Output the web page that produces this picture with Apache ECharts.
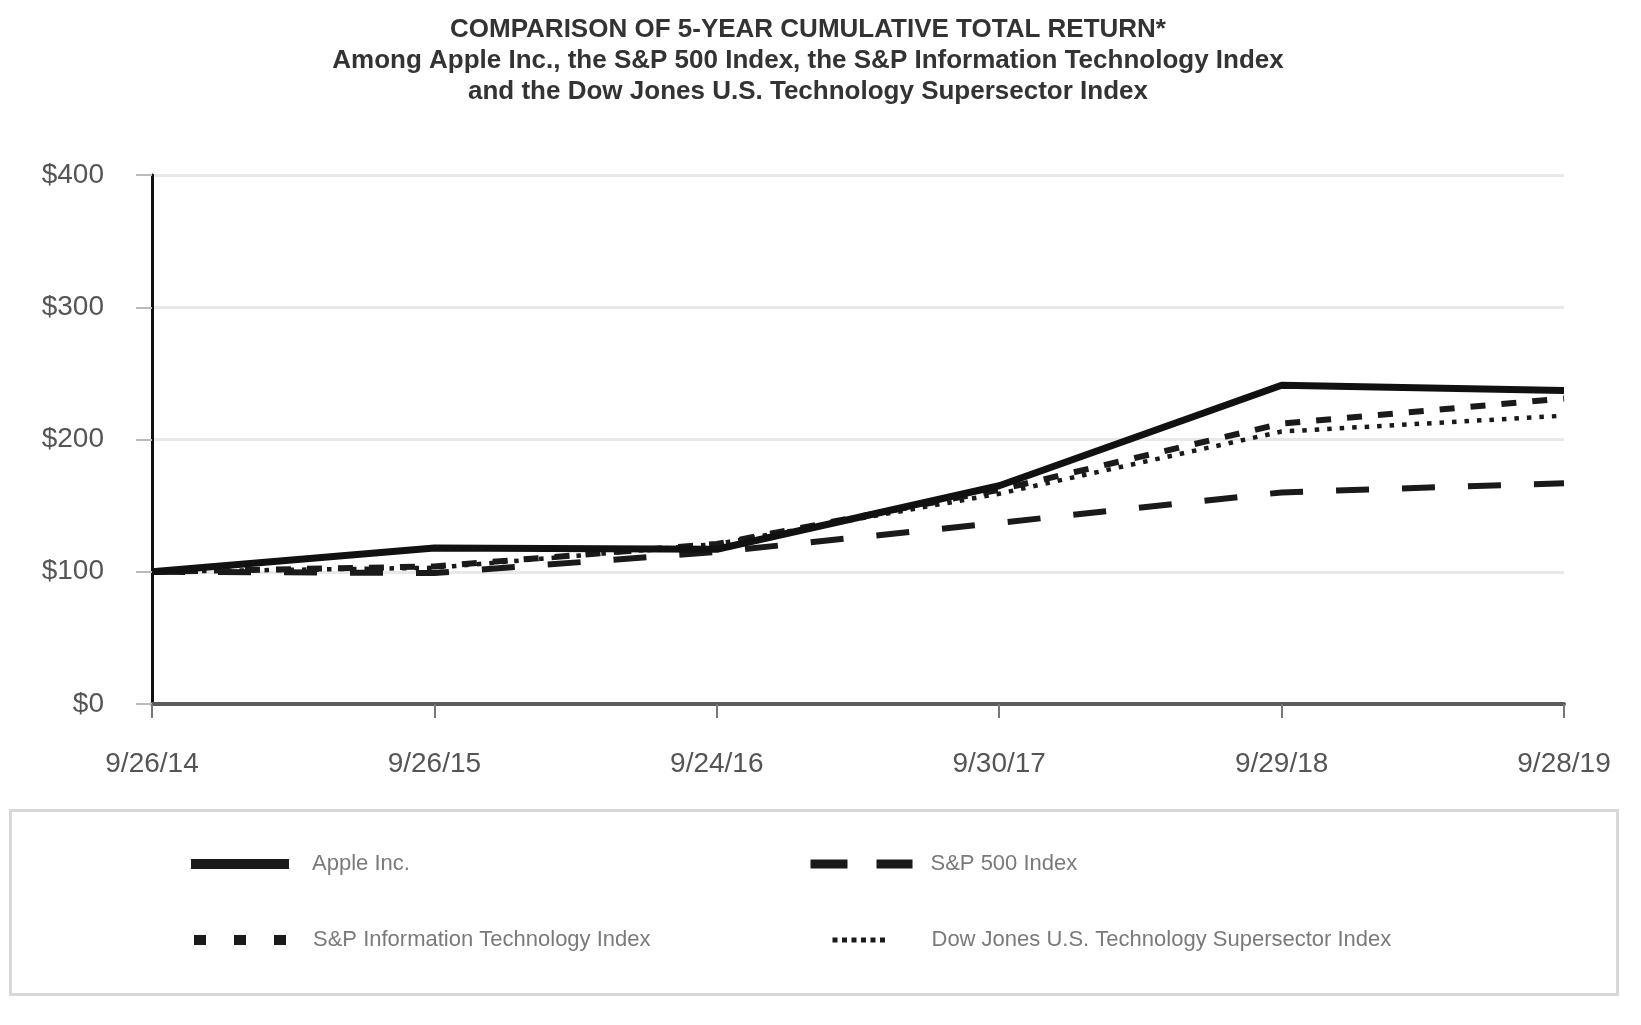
<!DOCTYPE html>
<html>
<head>
<meta charset="utf-8">
<script src="https://cdn.jsdelivr.net/npm/echarts@6/dist/echarts.min.js"></script>
<style>
  html, body { margin: 0; padding: 0; background: #ffffff; }
  #chart { width: 1641px; height: 1025px; }
</style>
</head>
<body>
<div id="chart"></div>
<script>
const dates = ['9/26/14', '9/26/15', '9/24/16', '9/30/17', '9/29/18', '9/28/19'];
const yTicks = [0, 100, 200, 300, 400];
const seriesNames = ['Apple Inc.', 'S&P 500 Index', 'S&P Information Technology Index', 'Dow Jones U.S. Technology Supersector Index'];
const apple = [100, 118, 117, 165, 241, 237];
const sp500 = [100, 99, 115, 137, 160, 167];
const spIT = [100, 104, 121, 162, 212, 231];
const dowTech = [100, 103, 121, 159, 206, 218];
const titleLines = [
  'COMPARISON OF 5-YEAR CUMULATIVE TOTAL RETURN*',
  'Among Apple Inc., the S&P 500 Index, the S&P Information Technology Index',
  'and the Dow Jones U.S. Technology Supersector Index'
];

const chart = echarts.init(document.getElementById('chart'), null, { renderer: 'canvas' });
const FONT = "'Liberation Sans', Arial, sans-serif";
const legendText = { color: '#7a7a7a', fontSize: 22, fontFamily: FONT };

function mkLegend(name, left, top, w, h, ls, pad) {
  return {
    data: [name], left: left, top: top, orient: 'horizontal', padding: 0,
    itemWidth: w, itemHeight: h, selectedMode: false,
    lineStyle: ls,
    itemStyle: { color: 'rgba(0,0,0,0)', borderWidth: 0, opacity: 0 },
    textStyle: Object.assign({ padding: [0, 0, 0, pad] }, legendText)
  };
}

const option = {
  backgroundColor: '#ffffff',
  animation: false,
  title: {
    text: titleLines.join('\n'),
    left: 808,
    top: 14,
    padding: 0,
    textAlign: 'center',
    textStyle: {
      fontFamily: "'Liberation Sans Narrow', 'Arial Narrow', 'Liberation Sans', sans-serif",
      fontWeight: 'bold', fontSize: 26, lineHeight: 31, color: '#333333'
    }
  },
  graphic: [{
    type: 'rect', left: 8, top: 808,
    shape: { width: 1607, height: 184 },
    style: { fill: 'none', stroke: '#d8d8d8', lineWidth: 3 }
  }],
  legend: [
    mkLegend(seriesNames[0], 186, 853, 98, 14, { width: 10, type: 'solid', color: '#1a1a1a', cap: 'butt' }, 18),
    mkLegend(seriesNames[1], 806, 853, 102, 14, { width: 9, type: [37, 29], color: '#1a1a1a', cap: 'butt' }, 13),
    mkLegend(seriesNames[2], 189, 929, 94, 14, { width: 10, type: [12, 28], color: '#1a1a1a', cap: 'butt' }, 20),
    mkLegend(seriesNames[3], 830, 929, 56, 14, { width: 5, type: [5, 4.5], color: '#1a1a1a', cap: 'butt' }, 38)
  ],
  grid: { left: 152, right: 77, top: 175, bottom: 321, containLabel: false },
  xAxis: {
    type: 'category', data: dates, boundaryGap: false,
    axisLine: { show: true, lineStyle: { color: '#5a5a5a', width: 4 } },
    axisTick: { show: true, length: 14, lineStyle: { color: '#777777', width: 2 } },
    axisLabel: { color: '#555555', fontSize: 28, fontFamily: FONT, margin: 46 },
    splitLine: { show: false }
  },
  yAxis: {
    type: 'value', min: yTicks[0], max: yTicks[yTicks.length - 1], interval: 100,
    axisLine: { show: true, onZero: false, lineStyle: { color: '#111111', width: 3 } },
    axisTick: { show: true, length: 16, lineStyle: { color: '#bbbbbb', width: 2 } },
    axisLabel: { color: '#555555', fontSize: 28, fontFamily: FONT, margin: 48, formatter: v => '$' + v },
    splitLine: { show: true, lineStyle: { color: '#e8e8e8', width: 3 } }
  },
  series: [
    {
      name: seriesNames[1], type: 'line', data: sp500, symbol: 'none', z: 3,
      itemStyle: { color: '#1a1a1a' },
      lineStyle: { color: '#1a1a1a', width: 6, type: [33, 33], cap: 'butt' }
    },
    {
      name: seriesNames[3], type: 'line', data: dowTech, symbol: 'none', z: 4,
      itemStyle: { color: '#1a1a1a' },
      lineStyle: { color: '#1a1a1a', width: 4.5, type: [4.5, 8], cap: 'butt' }
    },
    {
      name: seriesNames[2], type: 'line', data: spIT, symbol: 'none', z: 5,
      itemStyle: { color: '#1a1a1a' },
      lineStyle: { color: '#1a1a1a', width: 6, type: [15, 16], cap: 'butt' }
    },
    {
      name: seriesNames[0], type: 'line', data: apple, symbol: 'none', z: 6,
      itemStyle: { color: '#111111' },
      lineStyle: { color: '#111111', width: 7, type: 'solid', join: 'round' }
    }
  ]
};
chart.setOption(option);
</script>
</body>
</html>
